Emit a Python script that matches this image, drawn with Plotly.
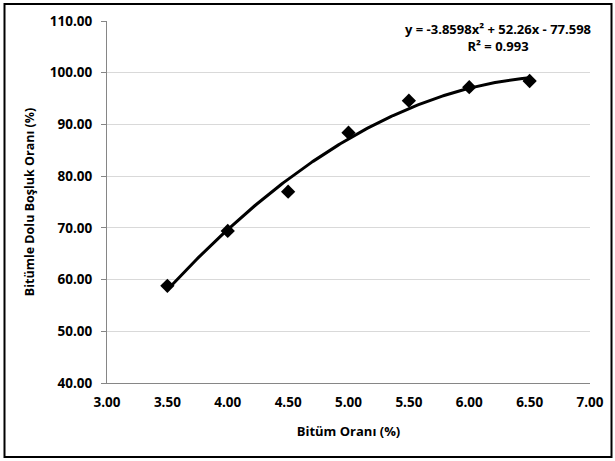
import numpy as np
import plotly.graph_objects as go

# Data
bitum_orani = [3.5, 4.0, 4.5, 5.0, 5.5, 6.0, 6.5]
vfa = [58.8, 69.4, 77.0, 88.4, 94.6, 97.2, 98.4]
trend_coef = [-3.8598, 52.26, -77.598]
x_ticks = [3.0, 3.5, 4.0, 4.5, 5.0, 5.5, 6.0, 6.5, 7.0]
y_ticks = [40, 50, 60, 70, 80, 90, 100, 110]
equation_lines = ["y = -3.8598x² + 52.26x - 77.598", "R² = 0.993"]
x_title = "Bitüm Oranı (%)"
y_title = "Bitümle Dolu Boşluk Oranı (%)"

W, H = 615, 461
L, R, T, B = 107, 25, 21, 78
pw, ph = W - L - R, H - T - B

FONT = "Open Sans"

tx = np.linspace(min(bitum_orani), max(bitum_orani), 200)
ty = np.polyval(trend_coef, tx)

fig = go.Figure()
fig.add_trace(go.Scatter(x=tx, y=ty, mode="lines",
                         line=dict(color="black", width=3), hoverinfo="skip",
                         showlegend=False))
fig.add_trace(go.Scatter(x=bitum_orani, y=vfa, mode="markers",
                         marker=dict(symbol="diamond", size=11, color="black"),
                         showlegend=False))

fig.update_layout(
    width=W, height=H, autosize=False,
    margin=dict(l=L, r=R, t=T, b=B),
    paper_bgcolor="white", plot_bgcolor="white",
    font=dict(family=FONT, size=12, color="black"),
    xaxis=dict(range=[3, 7], tickvals=x_ticks,
               ticktext=[f"{v:.2f}" for v in x_ticks],
               showgrid=False, zeroline=False,
               showline=True, linecolor="#868686", linewidth=1,
               ticks="", ticklabelstandoff=7,
               tickfont=dict(family=FONT, size=13.5, color="black", weight="bold"),
               title=dict(text=x_title, standoff=16,
                          font=dict(family=FONT, size=13, color="black", weight="bold"))),
    yaxis=dict(range=[40, 110], tickvals=y_ticks,
               ticktext=[f"{v:.2f}" for v in y_ticks],
               showgrid=True, gridcolor="#d9d9d9", gridwidth=1, zeroline=False,
               showline=True, linecolor="#868686", linewidth=1,
               ticks="outside", ticklen=5, tickcolor="#868686",
               ticklabelstandoff=6,
               tickfont=dict(family=FONT, size=13.5, color="black", weight="bold"),
               title=dict(text=y_title, standoff=12,
                          font=dict(family=FONT, size=12.5, color="black", weight="bold"))),
    annotations=[dict(
        text="<br>".join(equation_lines), xref="paper", yref="paper",
        x=(498 - L) / pw, y=(H - B - 37.5) / ph, xanchor="center", yanchor="middle",
        align="center", showarrow=False,
        font=dict(family=FONT, size=13, color="black", weight="bold"))],
    shapes=[dict(type="rect", xref="paper", yref="paper",
                 x0=(4.5 - L) / pw, x1=(611.5 - L) / pw,
                 y0=(H - B - 457) / ph, y1=(H - B - 4) / ph,
                 line=dict(color="black", width=2), fillcolor="rgba(0,0,0,0)",
                 layer="above")],
)

fig.write_html("out.html",
               config={"displayModeBar": False},
               post_script="document.body.style.margin='0px';"
                           "document.body.style.overflow='hidden';")
